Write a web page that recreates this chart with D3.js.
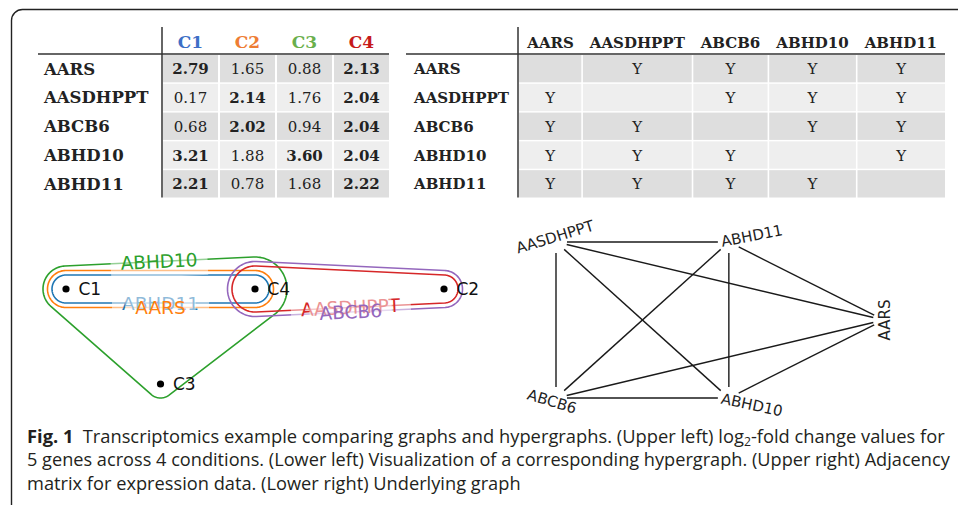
<!DOCTYPE html>
<html>
<head>
<meta charset="utf-8">
<script src="https://cdn.jsdelivr.net/npm/d3@7"></script>
<style>
  html, body { margin: 0; padding: 0; background: #fff; }
  svg { display: block; }
</style>
</head>
<body>
<svg id="fig" width="958" height="505"></svg>
<script>
// ---------------------------------------------------------------------------
// Data
// ---------------------------------------------------------------------------
const genes = ["AARS", "AASDHPPT", "ABCB6", "ABHD10", "ABHD11"];
const conditions = ["C1", "C2", "C3", "C4"];

// log2-fold change per condition, rows in the order of `genes`
const valuesC1 = [2.79, 0.17, 0.68, 3.21, 2.21];
const valuesC2 = [1.65, 2.14, 2.02, 1.88, 0.78];
const valuesC3 = [0.88, 1.76, 0.94, 3.60, 1.68];
const valuesC4 = [2.13, 2.04, 2.04, 2.04, 2.22];
const valueFormat = ".2f";

// a gene is "expressed" under a condition when its change reaches this level
const threshold = 2.0;

// adjacency matrix rows (gene x gene)
const adjAARS     = ["",  "Y", "Y", "Y", "Y"];
const adjAASDHPPT = ["Y", "",  "Y", "Y", "Y"];
const adjABCB6    = ["Y", "Y", "",  "Y", "Y"];
const adjABHD10   = ["Y", "Y", "Y", "",  "Y"];
const adjABHD11   = ["Y", "Y", "Y", "Y", ""];

// hyperedge order (sets the tab10 colour of each gene)
const hyperedgeOrder = ["ABHD11", "AARS", "ABHD10", "AASDHPPT", "ABCB6"];

const captionLine1 = ["Fig. 1", "Transcriptomics example comparing graphs and hypergraphs. (Upper left) log", "2", "-fold change values for"];
const captionLine2 = "5 genes across 4 conditions. (Lower left) Visualization of a corresponding hypergraph. (Upper right) Adjacency";
const captionLine3 = "matrix for expression data. (Lower right) Underlying graph";

// ---------------------------------------------------------------------------
// Layout (unit coordinates, mapped through linear scales)
// ---------------------------------------------------------------------------
const hyperLayout = { C1: [0, 0], C2: [1, 0], C3: [0.25, 1], C4: [0.5, 0] };
const graphLayout = {
  AARS: [1, 0.5], AASDHPPT: [0, 0], ABCB6: [0, 1], ABHD10: [0.527, 1], ABHD11: [0.527, 0]
};
const graphLabel = {
  AARS:     { dx: 1,  dy: 0,   rot: -90 },
  AASDHPPT: { dx: -1, dy: -5,  rot: -17 },
  ABCB6:    { dx: -4, dy: 3.5, rot: 17 },
  ABHD10:   { dx: 23, dy: 7,   rot: 12 },
  ABHD11:   { dx: 23, dy: -6,  rot: -11 }
};

const svg = d3.select("#fig");
const valueCols = [valuesC1, valuesC2, valuesC3, valuesC4];
const adjacency = [adjAARS, adjAASDHPPT, adjABCB6, adjABHD10, adjABHD11];
const serif = "'DejaVu Serif', serif";
const sans = "'DejaVu Sans', sans-serif";
const ink = "#222";

// rounded figure frame
svg.append("path")
  .attr("d", "M11.5,505 V20.5 A11,11 0 0 1 22.5,9.5 H958")
  .attr("fill", "none").attr("stroke", ink).attr("stroke-width", 1.4);

// ---------------------------------------------------------------------------
// Upper left: fold-change table
// ---------------------------------------------------------------------------
const rowY = d3.scaleBand().domain(genes).range([55, 197.5]).paddingInner(0.05);
const colX = d3.scaleBand().domain(conditions).range([163, 389]).paddingInner(0.035);
const condColor = d3.scaleOrdinal().domain(conditions)
  .range(["#3d6fc6", "#ee7d34", "#6aaf4c", "#c61a1a"]);
const rowFill = i => (i % 2 === 0 ? "#dedede" : "#eeeeee");

const lt = svg.append("g");
genes.forEach((g, i) => {
  conditions.forEach((c, j) => {
    lt.append("rect")
      .attr("x", colX(c)).attr("y", rowY(g))
      .attr("width", colX.bandwidth()).attr("height", rowY.bandwidth())
      .attr("fill", rowFill(i));
    const v = valueCols[j][i];
    lt.append("text")
      .attr("x", colX(c) + colX.bandwidth() / 2)
      .attr("y", rowY(g) + rowY.bandwidth() / 2 + 5.5)
      .attr("text-anchor", "middle")
      .attr("font-family", serif).attr("font-size", 15)
      .attr("font-weight", v >= threshold ? "bold" : "normal")
      .attr("fill", ink)
      .text(d3.format(valueFormat)(v));
  });
  lt.append("text")
    .attr("x", 44).attr("y", rowY(g) + rowY.bandwidth() / 2 + 6)
    .attr("font-family", serif).attr("font-size", 16.5).attr("font-weight", "bold")
    .attr("fill", ink).text(g);
});
conditions.forEach(c => {
  lt.append("text")
    .attr("x", colX(c) + colX.bandwidth() / 2).attr("y", 47.5)
    .attr("text-anchor", "middle")
    .attr("font-family", serif).attr("font-size", 17).attr("font-weight", "bold")
    .attr("fill", condColor(c)).text(c);
});
lt.append("line").attr("x1", 38).attr("x2", 389).attr("y1", 54).attr("y2", 54)
  .attr("stroke", "#333").attr("stroke-width", 1.5);
lt.append("line").attr("x1", 162).attr("x2", 162).attr("y1", 27).attr("y2", 197.5)
  .attr("stroke", "#333").attr("stroke-width", 1.5);

// ---------------------------------------------------------------------------
// Upper right: adjacency table (column widths follow header widths)
// ---------------------------------------------------------------------------
const rt = svg.append("g");
const headers = genes.map(g => rt.append("text")
  .attr("font-family", serif).attr("font-size", 15).attr("font-weight", "bold")
  .attr("fill", ink).attr("text-anchor", "middle").attr("y", 47.5).text(g));
const widths = headers.map(h => h.node().getComputedTextLength() + 18);
const cum = [0];
widths.forEach(w => cum.push(cum[cum.length - 1] + w));
const adjX = d3.scaleLinear().domain([0, cum[cum.length - 1]]).range([519, 945]);
const gap = 1.6;

headers.forEach((h, j) => h.attr("x", (adjX(cum[j]) + adjX(cum[j + 1])) / 2));
genes.forEach((g, i) => {
  genes.forEach((h, j) => {
    const x0 = adjX(cum[j]) + (j === 0 ? 0 : gap / 2);
    const x1 = adjX(cum[j + 1]) - (j === genes.length - 1 ? 0 : gap / 2);
    rt.append("rect")
      .attr("x", x0).attr("y", rowY(g))
      .attr("width", x1 - x0).attr("height", rowY.bandwidth())
      .attr("fill", rowFill(i));
    if (adjacency[i][j]) {
      rt.append("text")
        .attr("x", (x0 + x1) / 2).attr("y", rowY(g) + rowY.bandwidth() / 2 + 5.5)
        .attr("text-anchor", "middle")
        .attr("font-family", serif).attr("font-size", 15).attr("fill", ink)
        .text(adjacency[i][j]);
    }
  });
  rt.append("text")
    .attr("x", 414).attr("y", rowY(g) + rowY.bandwidth() / 2 + 5.5)
    .attr("font-family", serif).attr("font-size", 15).attr("font-weight", "bold")
    .attr("fill", ink).text(g);
});
rt.append("line").attr("x1", 406).attr("x2", 945).attr("y1", 54).attr("y2", 54)
  .attr("stroke", "#333").attr("stroke-width", 1.5);
rt.append("line").attr("x1", 518).attr("x2", 518).attr("y1", 27).attr("y2", 197.5)
  .attr("stroke", "#333").attr("stroke-width", 1.5);

// ---------------------------------------------------------------------------
// Lower left: hypergraph (conditions as nodes, genes as hyperedges)
// ---------------------------------------------------------------------------
const hx = d3.scaleLinear().domain([0, 1]).range([66, 444]);
const hy = d3.scaleLinear().domain([0, 1]).range([289, 384]);
const edgeColor = d3.scaleOrdinal().domain(hyperedgeOrder).range(d3.schemeCategory10);

const hyperedges = hyperedgeOrder.map(g => {
  const i = genes.indexOf(g);
  return { gene: g, members: conditions.filter((c, j) => valueCols[j][i] >= threshold) };
});
// smaller edges sit inside larger ones around each node
const nesting = hyperedges.slice().sort((a, b) => a.members.length - b.members.length);
const baseRadius = 14, radiusStep = 4.5;
const radiusFor = (edge, node) => {
  const around = nesting.filter(e => e.members.includes(node));
  return baseRadius + radiusStep * around.indexOf(edge);
};

const hg = svg.append("g");
const hullLine = d3.line().curve(d3.curveLinearClosed);
hyperedges.forEach(e => {
  const pts = [];
  e.members.forEach(c => {
    const [ux, uy] = hyperLayout[c];
    const cx = hx(ux), cy = hy(uy), r = radiusFor(e, c);
    d3.range(120).forEach(k => {
      const a = (k / 120) * 2 * Math.PI;
      pts.push([cx + r * Math.cos(a), cy + r * Math.sin(a)]);
    });
  });
  e.hull = d3.polygonHull(pts);
  hg.append("path").attr("d", hullLine(e.hull))
    .attr("fill", "none").attr("stroke", edgeColor(e.gene)).attr("stroke-width", 1.6);
});

// label on the longest straight run of each hull
hyperedges.forEach(e => {
  const h = e.hull;
  let best = null;
  h.forEach((p, k) => {
    const q = h[(k + 1) % h.length];
    const len = Math.hypot(q[0] - p[0], q[1] - p[1]);
    const my = (p[1] + q[1]) / 2;
    if (!best || len > best.len + 0.5 || (Math.abs(len - best.len) <= 0.5 && my > best.my)) {
      best = { len, p, q, my };
    }
  });
  let ang = Math.atan2(best.q[1] - best.p[1], best.q[0] - best.p[0]) * 180 / Math.PI;
  if (ang > 90) ang -= 180;
  if (ang <= -90) ang += 180;
  const mx = (best.p[0] + best.q[0]) / 2;
  const g = hg.append("g").attr("transform", `translate(${mx},${best.my}) rotate(${ang})`);
  const bg = g.append("rect");
  const t = g.append("text")
    .attr("text-anchor", "middle").attr("dominant-baseline", "central")
    .attr("font-family", sans).attr("font-size", 18.5)
    .attr("fill", edgeColor(e.gene)).text(e.gene);
  const bb = t.node().getBBox();
  bg.attr("x", bb.x - 10).attr("y", bb.y - 5)
    .attr("width", bb.width + 20).attr("height", bb.height + 10)
    .attr("fill", "#fff").attr("fill-opacity", 0.5);
});

conditions.forEach(c => {
  const [ux, uy] = hyperLayout[c];
  hg.append("circle").attr("cx", hx(ux)).attr("cy", hy(uy)).attr("r", 3.6).attr("fill", "#000");
  hg.append("text").attr("x", hx(ux) + 12.5).attr("y", hy(uy))
    .attr("dominant-baseline", "central")
    .attr("font-family", sans).attr("font-size", 17).attr("fill", "#111").text(c);
});

// ---------------------------------------------------------------------------
// Lower right: underlying graph from the adjacency matrix
// ---------------------------------------------------------------------------
const gx = d3.scaleLinear().domain([0, 1]).range([556, 884]);
const gy = d3.scaleLinear().domain([0, 1]).range([242, 398]);
const gg = svg.append("g");
const shrink = 11;
genes.forEach((a, i) => {
  genes.forEach((b, j) => {
    if (j <= i || adjacency[i][j] !== "Y") return;
    const x1 = gx(graphLayout[a][0]), y1 = gy(graphLayout[a][1]);
    const x2 = gx(graphLayout[b][0]), y2 = gy(graphLayout[b][1]);
    const L = Math.hypot(x2 - x1, y2 - y1), ux = (x2 - x1) / L, uy = (y2 - y1) / L;
    gg.append("line")
      .attr("x1", x1 + ux * shrink).attr("y1", y1 + uy * shrink)
      .attr("x2", x2 - ux * shrink).attr("y2", y2 - uy * shrink)
      .attr("stroke", "#1a1a1a").attr("stroke-width", 1.4);
  });
});
genes.forEach(g => {
  const p = graphLabel[g];
  gg.append("text")
    .attr("transform", `translate(${gx(graphLayout[g][0]) + p.dx},${gy(graphLayout[g][1]) + p.dy}) rotate(${p.rot})`)
    .attr("text-anchor", "middle").attr("dominant-baseline", "central")
    .attr("font-family", sans).attr("font-size", 15).attr("fill", ink).text(g);
});

// ---------------------------------------------------------------------------
// Caption (each line condensed horizontally to the width of the text block)
// ---------------------------------------------------------------------------
const capFont = "'Open Sans', sans-serif";
const capSize = 18;
const capLeft = 27;
function captionLine(y) {
  const grp = svg.append("g");
  const t = grp.append("text").attr("x", 0).attr("y", y)
    .attr("font-family", capFont).attr("font-size", capSize).attr("fill", "#231f20");
  return { grp, t };
}
const c1 = captionLine(443);
c1.t.append("tspan").attr("font-weight", "bold").text(captionLine1[0]);
c1.t.append("tspan").attr("dx", 9).text(captionLine1[1]);
c1.t.append("tspan").attr("dy", 3.5).attr("font-size", 12).text(captionLine1[2]);
c1.t.append("tspan").attr("dy", -3.5).text(captionLine1[3]);
const c2 = captionLine(466.5);
c2.t.text(captionLine2);
const c3 = captionLine(490);
c3.t.text(captionLine3);

const k1 = (946 - capLeft) / c1.t.node().getBBox().width;
const k2 = (951 - capLeft) / c2.t.node().getBBox().width;
const k3 = (k1 + k2) / 2;
[[c1, k1], [c2, k2], [c3, k3]].forEach(([c, k]) =>
  c.grp.attr("transform", `translate(${capLeft},0) scale(${k},1)`));
</script>
</body>
</html>
